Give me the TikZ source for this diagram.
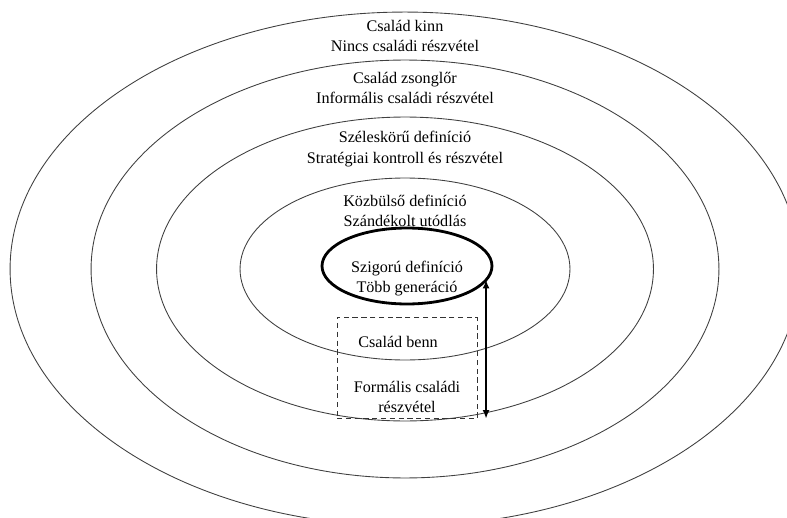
\documentclass[tikz,border=0pt]{standalone}
\usepackage{fontspec}
\setmainfont{Liberation Serif}
\usetikzlibrary{arrows.meta,positioning,shapes.geometric}
\tikzset{
  % --- concentric circles of family involvement ---------------------------
  ring/.style={
    ellipse, draw=black!75, line width=0.5pt, inner sep=0pt, outer sep=0pt
  },
  corering/.style={
    ellipse, draw=black, line width=1.6pt, inner sep=0pt, outer sep=0pt
  },
  ringlabel/.style={
    align=center, inner sep=1pt, font=\fontsize{9.2}{11.6}\selectfont
  },
  innerbox/.style={
    rectangle, draw=black!80, densely dashed, line width=0.4pt,
    minimum width=2.8cm, minimum height=2.02cm
  },
  dblarrow/.style={{Latex[length=1.7mm,width=1.4mm]}-{Latex[length=1.7mm,width=1.4mm]}, line width=1pt},
}

\begin{document}
\begin{tikzpicture}[x=0.02cm, y=-0.02cm]
    \useasboundingbox (0,0) rectangle (787,517);
    \clip (0,0) rectangle (787,517);
    \coordinate (mid) at (405,269);

    \node[ring, minimum width=15.8cm, minimum height=10.28cm] (kinn) at (mid) {};
    \node[ring, minimum width=12.56cm, minimum height=8.36cm] (zsonglor) at (mid) {};
    \node[ring, minimum width=9.94cm, minimum height=6.08cm] (szeles) at (mid) {};
    \node[ring, minimum width=6.6cm, minimum height=3.64cm] (kozbulso) at (mid) {};
    \node[corering, minimum width=3.4cm, minimum height=1.52cm] (szigoru) at (407,266) {};

    \node[ringlabel, below=3.5pt of kinn.north] (kinntxt) {Család kinn\\Nincs családi részvétel};
    \node[ringlabel, below=5.5pt of zsonglor.north] (zsonglortxt) {Család zsonglőr\\Informális családi részvétel};
    \node[ringlabel, below=7pt of szeles.north] (szelestxt) {Széleskörű definíció\\Stratégiai kontroll és részvétel};
    \node[ringlabel, below=8.5pt of kozbulso.north] (kozbulsotxt) {Közbülső definíció\\Szándékolt utódlás};
    \node[ringlabel, below=-4pt of szigoru.center] (szigorutxt) {Szigorú definíció\\Több generáció};

    \node[innerbox, below=0.26cm of szigoru] (benn) {};
    \node[ringlabel, below=10pt of benn.north, xshift=-0.18cm] (benntxt) {Család benn};
    \node[ringlabel, above=2pt of benn.south] (formtxt) {Formális családi\\részvétel};

    \draw[dblarrow] (szigoru.-10) -- (szigoru.-10 |- benn.south);
  \end{tikzpicture}
\end{document}
